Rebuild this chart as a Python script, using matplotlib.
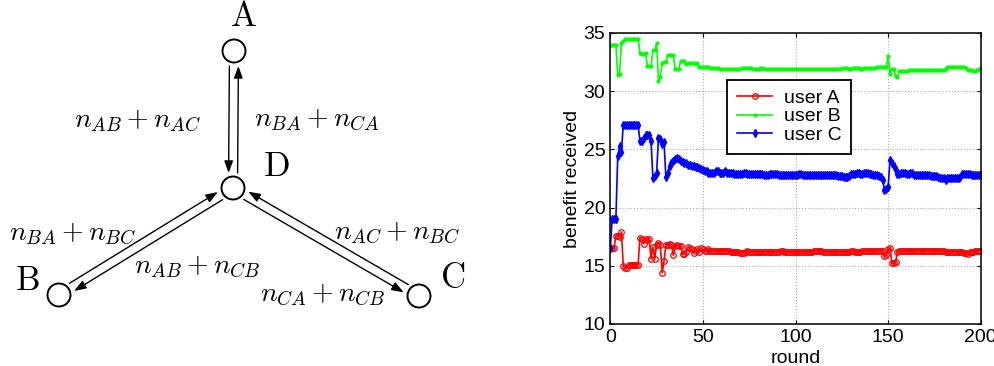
import numpy as np
import matplotlib
matplotlib.use("Agg")
import matplotlib.pyplot as plt
from matplotlib.patches import Circle

plt.rcParams["font.family"] = ["Liberation Sans", "DejaVu Sans"]
plt.rcParams["mathtext.fontset"] = "cm"

# ---------------- data ----------------
rounds = np.arange(0, 201)

user_a = [
    16.4, 16.5, 16.5, 17.6, 17.6, 17.5, 17.9, 15.0, 14.8, 14.8,
    15.1, 15.1, 15.1, 15.1, 15.1, 15.1, 17.4, 17.3, 16.9, 17.3,
    17.2, 17.3, 15.6, 16.6, 15.6, 16.8, 17.0, 16.8, 14.4, 15.4,
    16.8, 16.8, 16.9, 16.8, 15.9, 16.7, 16.8, 16.7, 16.7, 16.0,
    16.0, 16.2, 16.6, 16.5, 16.4, 16.1, 16.3, 16.4, 16.2, 16.5,
    16.4, 16.3, 16.3, 16.4, 16.3, 16.3, 16.3, 16.3, 16.3, 16.3,
    16.3, 16.3, 16.3, 16.3, 16.3, 16.2, 16.2, 16.2, 16.2, 16.2,
    16.1, 16.1, 16.1, 16.2, 16.3, 16.2, 16.2, 16.2, 16.2, 16.2,
    16.2, 16.2, 16.2, 16.2, 16.2, 16.2, 16.2, 16.2, 16.2, 16.2,
    16.2, 16.2, 16.3, 16.3, 16.2, 16.2, 16.2, 16.2, 16.2, 16.2,
    16.2, 16.2, 16.2, 16.2, 16.2, 16.2, 16.2, 16.2, 16.2, 16.2,
    16.3, 16.3, 16.3, 16.3, 16.3, 16.2, 16.2, 16.2, 16.2, 16.2,
    16.2, 16.2, 16.2, 16.2, 16.2, 16.2, 16.2, 16.2, 16.2, 16.2,
    16.3, 16.3, 16.2, 16.2, 16.2, 16.2, 16.3, 16.3, 16.3, 16.3,
    16.3, 16.3, 16.3, 16.3, 16.3, 16.3, 16.3, 16.3, 15.8, 15.9,
    16.4, 16.5, 15.2, 15.2, 15.3, 16.2, 16.3, 16.3, 16.3, 16.3,
    16.3, 16.3, 16.3, 16.3, 16.3, 16.3, 16.3, 16.3, 16.3, 16.3,
    16.3, 16.3, 16.3, 16.3, 16.3, 16.3, 16.3, 16.3, 16.3, 16.3,
    16.3, 16.2, 16.2, 16.2, 16.2, 16.2, 16.2, 16.2, 16.2, 16.2,
    16.2, 16.1, 16.1, 16.0, 16.2, 16.2, 16.2, 16.3, 16.3, 16.3,
    16.3,
]

user_b = [
    34.0, 34.0, 34.0, 34.0, 31.4, 31.5, 34.1, 34.3, 34.5, 34.5,
    34.5, 34.5, 34.5, 34.5, 34.5, 34.5, 33.3, 33.2, 33.2, 33.3,
    32.2, 32.2, 32.2, 33.5, 33.5, 34.1, 30.9, 31.2, 32.4, 32.5,
    32.5, 33.1, 33.1, 33.1, 33.1, 31.9, 31.9, 31.9, 32.6, 32.6,
    32.6, 32.3, 32.4, 32.4, 32.4, 32.4, 32.3, 32.4, 32.1, 32.1,
    32.1, 32.1, 32.1, 32.1, 32.0, 32.0, 32.0, 32.0, 32.0, 31.9,
    31.9, 31.9, 31.9, 31.9, 31.9, 31.9, 31.9, 31.9, 31.9, 31.9,
    31.9, 32.0, 32.0, 32.0, 32.0, 32.0, 32.0, 31.9, 31.9, 31.9,
    31.9, 32.0, 32.0, 31.9, 31.9, 31.9, 31.9, 31.9, 31.9, 31.9,
    31.9, 31.9, 31.9, 31.9, 31.9, 31.9, 31.9, 31.9, 31.9, 31.9,
    31.9, 31.9, 31.9, 31.9, 31.9, 31.9, 31.9, 31.9, 31.9, 31.9,
    31.9, 31.9, 31.9, 31.9, 31.9, 31.9, 31.9, 31.9, 31.9, 31.9,
    31.9, 31.9, 31.9, 31.9, 31.9, 32.0, 32.0, 32.0, 32.0, 31.9,
    31.9, 32.0, 32.0, 32.0, 32.0, 31.9, 31.9, 32.0, 32.0, 32.0,
    32.0, 32.0, 32.0, 32.0, 32.1, 32.1, 32.1, 32.1, 32.1, 32.1,
    33.0, 31.5, 31.9, 31.9, 31.3, 31.2, 31.7, 31.7, 31.7, 31.7,
    31.7, 31.8, 31.8, 31.8, 31.8, 31.8, 31.8, 31.8, 31.8, 31.8,
    31.8, 31.8, 31.8, 31.8, 31.8, 31.8, 31.8, 31.8, 31.8, 31.8,
    31.8, 31.9, 32.1, 32.1, 32.1, 32.1, 32.1, 32.1, 32.1, 32.1,
    32.1, 32.1, 32.0, 31.8, 31.8, 31.8, 31.7, 31.7, 31.8, 31.9,
    32.0,
]

user_c = [
    16.5, 19.0, 19.0, 19.0, 24.4, 25.3, 24.8, 27.1, 27.1, 27.1,
    27.1, 27.1, 27.1, 27.1, 27.1, 27.1, 25.7, 25.7, 26.0, 26.2,
    26.2, 26.2, 25.7, 22.5, 22.7, 23.0, 26.0, 25.9, 25.5, 25.6,
    22.6, 23.0, 23.6, 23.8, 24.0, 24.2, 24.3, 24.2, 24.0, 23.9,
    23.8, 23.8, 23.7, 23.7, 23.6, 23.6, 23.5, 23.5, 23.4, 23.3,
    23.2, 23.1, 23.1, 23.0, 23.0, 23.0, 23.0, 23.1, 23.1, 23.0,
    23.0, 23.0, 23.1, 23.0, 23.0, 23.0, 23.0, 22.9, 22.9, 22.9,
    22.9, 22.9, 23.0, 23.0, 22.9, 22.9, 22.9, 22.9, 22.9, 22.9,
    22.9, 22.9, 22.9, 22.8, 22.8, 22.8, 22.9, 22.9, 22.9, 22.9,
    22.9, 22.8, 22.8, 22.8, 22.8, 22.8, 22.8, 22.8, 22.8, 22.8,
    22.8, 22.8, 22.9, 22.9, 22.8, 22.8, 22.8, 22.8, 22.8, 22.8,
    22.8, 22.8, 22.8, 22.8, 22.8, 22.8, 22.8, 22.8, 22.8, 22.8,
    22.8, 22.8, 22.8, 22.7, 22.7, 22.7, 22.6, 22.6, 22.6, 22.7,
    22.9, 22.9, 22.9, 23.0, 23.0, 22.9, 22.9, 23.0, 23.0, 23.0,
    22.9, 22.9, 22.8, 22.8, 22.8, 22.7, 22.6, 22.4, 21.5, 21.6,
    21.8, 24.1, 23.8, 23.6, 23.2, 22.9, 22.9, 23.0, 23.0, 23.0,
    22.9, 22.9, 23.0, 23.0, 22.8, 22.8, 22.8, 22.8, 22.8, 22.8,
    22.8, 22.8, 22.8, 22.7, 22.7, 22.7, 22.7, 22.6, 22.5, 22.5,
    22.5, 22.4, 22.5, 22.5, 22.5, 22.5, 22.5, 22.5, 22.5, 22.6,
    22.9, 22.9, 22.9, 22.9, 22.9, 22.8, 22.8, 22.8, 22.8, 22.8,
    22.8,
]

# ---------------- diagram layout (pixel space) ----------------
nodes = {"A": (234, 51), "D": (233, 188), "B": (59, 295), "C": (419, 296)}
node_label_pos = {"A": (243, 17), "D": (276, 166), "B": (27, 281), "C": (453, 278)}
# side of the inbound (outer -> D) arrow relative to edge normal
inbound_side = {"A": -1, "B": 1, "C": -1}
edge_labels = [
    (r"$n_{AB}+n_{AC}$", (138, 121)),
    (r"$n_{BA}+n_{CA}$", (317, 120)),
    (r"$n_{BA}+n_{BC}$", (73, 234)),
    (r"$n_{AB}+n_{CB}$", (197, 267)),
    (r"$n_{AC}+n_{BC}$", (397, 233)),
    (r"$n_{CA}+n_{CB}$", (323, 295)),
]
NODE_R = 11.5
OFFSET = 4.5
GAP = 15


def _arrow(ax, p, q):
    ax.annotate("", xy=q, xytext=p,
                arrowprops=dict(arrowstyle="-|>,head_length=0.6,head_width=0.22",
                                lw=1.0, color="black", mutation_scale=12,
                                shrinkA=0, shrinkB=0))


fig = plt.figure(figsize=(9.94, 3.66), dpi=100)

ax0 = fig.add_axes([0, 0, 1, 1])
ax0.set_xlim(0, 994)
ax0.set_ylim(366, 0)
ax0.axis("off")

d_xy = np.array(nodes["D"], dtype=float)
for name, side in inbound_side.items():
    o_xy = np.array(nodes[name], dtype=float)
    d = (o_xy - d_xy) / np.linalg.norm(o_xy - d_xy)
    n = np.array([-d[1], d[0]])
    # outer -> D
    off = side * OFFSET * n
    _arrow(ax0, o_xy - d * GAP + off, d_xy + d * GAP + off)
    # D -> outer
    off = -side * OFFSET * n
    _arrow(ax0, d_xy + d * GAP + off, o_xy - d * GAP + off)

for name, xy in nodes.items():
    ax0.add_patch(Circle(xy, NODE_R, facecolor="white", edgecolor="black", lw=1.4, zorder=3))
    lx, ly = node_label_pos[name]
    ax0.text(lx, ly, r"$\mathrm{%s}$" % name, fontsize=25, ha="center", va="center")

for txt, (x, y) in edge_labels:
    ax0.text(x, y, txt, fontsize=20, ha="center", va="center")

# ---------------- line chart ----------------
ax = fig.add_axes([0.6140, 0.1148, 0.3727, 0.7951])
ax.plot(rounds, user_a, color="red", marker="o", lw=1.2, ms=4, mfc="none", mew=0.9, label="user A")
ax.plot(rounds, user_b, color="#00ff00", marker=".", lw=1.2, ms=4, label="user B")
ax.plot(rounds, user_c, color="blue", marker="d", lw=1.2, ms=4, label="user C")

ax.set_xlim(0, 200)
ax.set_ylim(10, 35)
ax.set_xticks([0, 50, 100, 150, 200])
ax.set_yticks([10, 15, 20, 25, 30, 35])
ax.tick_params(direction="in", length=3, labelsize=14, top=True, right=True, pad=3.5)
ax.grid(True, linestyle=":", color="#aaaaaa", lw=0.8)
for sp in ax.spines.values():
    sp.set_linewidth(1.1)
ax.set_xlabel("round", fontsize=14, labelpad=3)
ax.set_ylabel("benefit received", fontsize=14, labelpad=2)

leg = ax.legend(loc="upper left", bbox_to_anchor=(0.316, 0.84), borderaxespad=0,
                fontsize=14, frameon=True, fancybox=False, framealpha=1, edgecolor="black",
                handlelength=1.8, handletextpad=0.6, labelspacing=0.05, borderpad=0.5)
leg.get_frame().set_linewidth(1.3)

fig.savefig("out.png", dpi=100)
plt.close(fig)
